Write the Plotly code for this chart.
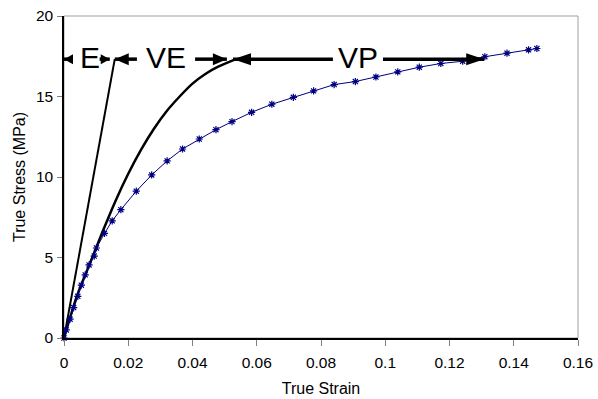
import plotly.graph_objects as go

# Measured data (true strain / true stress, MPa)
strain = [0, 0.0007, 0.0019, 0.003, 0.0043, 0.0054, 0.0066, 0.0078, 0.0094, 0.0101,
          0.0126, 0.015, 0.0177, 0.0225, 0.0273, 0.0321, 0.0369, 0.0421, 0.0473, 0.0523,
          0.0584, 0.0647, 0.0714, 0.0777, 0.0841, 0.0907, 0.0971, 0.1039, 0.1106, 0.1173,
          0.1241, 0.1310, 0.1379, 0.1446, 0.1472]
stress = [0, 0.5, 1.17, 1.89, 2.59, 3.28, 3.92, 4.54, 5.09, 5.59,
          6.5, 7.28, 7.97, 9.12, 10.13, 11.0, 11.74, 12.36, 12.94, 13.44,
          14.02, 14.52, 14.95, 15.35, 15.74, 15.93, 16.21, 16.53, 16.82, 17.05,
          17.19, 17.47, 17.69, 17.9, 17.98]

# Elastic line
e_strain = [0, 0.0158]
e_stress = [0, 17.32]

# Viscoelastic curve
ve_strain = [0, 0.004, 0.008, 0.012, 0.016, 0.020, 0.024, 0.028, 0.032, 0.036, 0.040, 0.044, 0.048, 0.0535]
ve_stress = [0, 2.6, 4.6, 6.6, 8.5, 10.2, 11.7, 13.0, 14.1, 15.0, 15.8, 16.4, 16.85, 17.32]

# Region labels and arrow extents
region_labels = ["E", "VE", "VP"]
region_start = [0.0, 0.0158, 0.0526]
region_end = [0.01425, 0.0507, 0.1308]
label_x = [0.0080, 0.0319, 0.0914]
gap_left = [0.0028, 0.0227, 0.0837]
gap_right = [0.0111, 0.0408, 0.0993]
head_len = [9, 14, 18]
head_half = [5, 6, 6]
arrow_y = 17.32

x_ticks = [0, 0.02, 0.04, 0.06, 0.08, 0.1, 0.12, 0.14, 0.16]
y_ticks = [0, 5, 10, 15, 20]

fig = go.Figure()
fig.add_trace(go.Scatter(x=e_strain, y=e_stress, mode="lines",
                         line=dict(color="black", width=2), cliponaxis=False,
                         showlegend=False))
fig.add_trace(go.Scatter(x=ve_strain, y=ve_stress, mode="lines",
                         line=dict(color="black", width=2.5, shape="spline", smoothing=0.6),
                         cliponaxis=False, showlegend=False))
fig.add_trace(go.Scatter(x=strain, y=stress, mode="lines+markers",
                         line=dict(color="#000080", width=1),
                         marker=dict(symbol="asterisk-open", size=6,
                                     line=dict(color="black", width=1.2)),
                         cliponaxis=False, showlegend=False))

shapes = [dict(type="rect", xref="paper", yref="paper", x0=0, x1=1, y0=0, y1=1,
               line=dict(color="#a0a0a0", width=1), layer="below")]
annotations = []
for i, lab in enumerate(region_labels):
    shapes.append(dict(type="line", xref="x", yref="y", x0=region_start[i], x1=gap_left[i],
                       y0=arrow_y, y1=arrow_y, line=dict(color="black", width=3.5)))
    shapes.append(dict(type="line", xref="x", yref="y", x0=gap_right[i], x1=region_end[i],
                       y0=arrow_y, y1=arrow_y, line=dict(color="black", width=3.5)))
    L, H = head_len[i], head_half[i]
    shapes.append(dict(type="path", xref="x", yref="y", xsizemode="pixel", ysizemode="pixel",
                       xanchor=region_start[i], yanchor=arrow_y,
                       path=f"M0,0 L{L},{H} L{L},{-H} Z",
                       fillcolor="black", line=dict(color="black", width=0)))
    shapes.append(dict(type="path", xref="x", yref="y", xsizemode="pixel", ysizemode="pixel",
                       xanchor=region_end[i], yanchor=arrow_y,
                       path=f"M0,0 L{-L},{H} L{-L},{-H} Z",
                       fillcolor="black", line=dict(color="black", width=0)))
    annotations.append(dict(x=label_x[i], y=arrow_y, xref="x", yref="y", text=lab,
                            showarrow=False, yshift=2,
                            font=dict(family="Liberation Sans, Arial", size=30, color="black")))

fig.update_layout(
    width=598, height=399,
    margin=dict(l=64, r=20, t=16, b=61),
    paper_bgcolor="white", plot_bgcolor="white",
    font=dict(family="Liberation Sans, Arial", size=16, color="black"),
    shapes=shapes, annotations=annotations,
    xaxis=dict(range=[0, 0.16], tickvals=x_ticks, ticktext=[f"{v:g}" for v in x_ticks],
               showgrid=False, zeroline=False, showline=True, linecolor="black", linewidth=1.5,
               ticks="outside", ticklen=6, tickcolor="#808080", tickwidth=1,
               tickfont=dict(size=15.5), automargin=False, ticklabelstandoff=4,
               title=dict(text="True Strain", font=dict(size=16), standoff=12)),
    yaxis=dict(range=[0, 20], tickvals=y_ticks, showgrid=False, zeroline=False,
               showline=True, linecolor="black", linewidth=1.5,
               ticks="outside", ticklen=5, tickcolor="#808080", tickwidth=1,
               tickfont=dict(size=15.5), automargin=False, ticklabelstandoff=1,
               title=dict(text="True Stress (MPa)", font=dict(size=16), standoff=6)),
)

fig.write_html("out.html", config={"displayModeBar": False},
               post_script="document.body.style.margin='0px';")
